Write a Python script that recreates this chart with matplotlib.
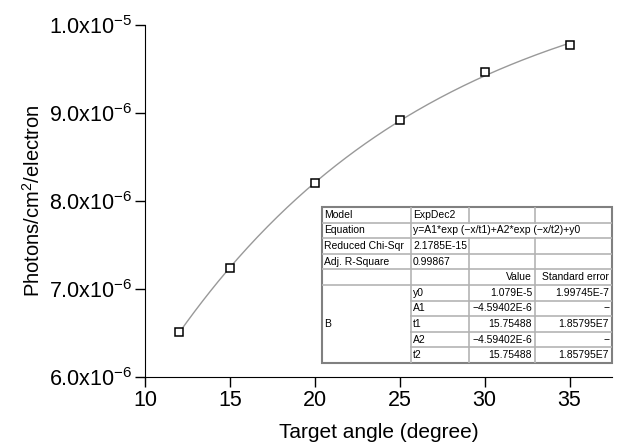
import matplotlib
matplotlib.use("Agg")
import matplotlib.pyplot as plt
import numpy as np
from matplotlib.patches import Rectangle

plt.rcParams["font.family"] = ["Liberation Sans", "DejaVu Sans"]
plt.rcParams["mathtext.fontset"] = "custom"
plt.rcParams["mathtext.rm"] = "Liberation Sans"
plt.rcParams["mathtext.it"] = "Liberation Sans"

# measured points
angle = [12, 15, 20, 25, 30, 35]
photons = [6.51e-6, 7.24e-6, 8.20e-6, 8.92e-6, 9.47e-6, 9.77e-6]

# ExpDec2 fit parameters (from the table)
y0 = 1.079e-5
A1 = -4.59402e-6
t1 = 15.75488
A2 = -4.59402e-6
t2 = 15.75488

xticks = [10, 15, 20, 25, 30, 35]
yticks = [6.0e-6, 7.0e-6, 8.0e-6, 9.0e-6, 1.0e-5]
ytick_labels = [r"6.0x10$^{-6}$", r"7.0x10$^{-6}$", r"8.0x10$^{-6}$",
                r"9.0x10$^{-6}$", r"1.0x10$^{-5}$"]

table_rows = [
    ["Model", "ExpDec2", "", ""],
    ["Equation", "y=A1*exp (\u2212x/t1)+A2*exp (\u2212x/t2)+y0", None, None],
    ["Reduced Chi-Sqr", "2.1785E-15", "", ""],
    ["Adj. R-Square", "0.99867", "", ""],
    ["", "", "Value", "Standard error"],
    ["B", "y0", "1.079E-5", "1.99745E-7"],
    ["", "A1", "\u22124.59402E-6", "\u2212"],
    ["", "t1", "15.75488", "1.85795E7"],
    ["", "A2", "\u22124.59402E-6", "\u2212"],
    ["", "t2", "15.75488", "1.85795E7"],
]

fig = plt.figure(figsize=(6.36, 4.46), dpi=100)
ax = fig.add_axes([145 / 636, 69 / 446, 467 / 636, 352 / 446])

xs = np.linspace(min(angle), max(angle), 200)
fit = A1 * np.exp(-xs / t1) + A2 * np.exp(-xs / t2) + y0
ax.plot(xs, fit, color="#999999", lw=1.0, zorder=2)
ax.plot(angle, photons, ls="none", marker="s", ms=6, mfc="white",
        mec="black", mew=1.1, zorder=3)

ax.set_xlim(10, 37.5)
ax.set_ylim(6.0e-6, 1.0e-5)
ax.set_xticks(xticks)
ax.set_yticks(yticks)
ax.set_yticklabels(ytick_labels)
ax.tick_params(direction="out", length=7, width=1, labelsize=15.5, pad=2)
for s in ["top", "right"]:
    ax.spines[s].set_visible(False)
ax.set_xlabel("Target angle (degree)", fontsize=15, labelpad=9)
ax.set_ylabel("Photons/cm$^2$/electron", fontsize=14.5, labelpad=4)

# fit-result table drawn in an inset
tab = fig.add_axes([322 / 636, 83 / 446, 290 / 636, 156 / 446])
tab.set_xlim(0, 290)
tab.set_ylim(156, 0)
tab.axis("off")
col_x = [0, 89, 147, 213, 290]
nrows = len(table_rows)
rh = 156 / nrows
inner = "#b4b4b4"
fs = 7.5
for r, row in enumerate(table_rows):
    ytop = r * rh
    ymid = ytop + rh / 2
    for c in range(4):
        txt = row[c]
        if txt is None:
            continue
        if r == 1 and c == 1:
            tab.text(col_x[1] + 2, ymid, txt, fontsize=fs, va="center", ha="left")
            continue
        if r >= 4 and c >= 2:
            tab.text(col_x[c + 1] - 3, ymid, txt, fontsize=fs, va="center", ha="right")
        elif r >= 5 and c == 0:
            continue
        else:
            tab.text(col_x[c] + 2, ymid, txt, fontsize=fs, va="center", ha="left")
tab.text(col_x[0] + 2, 7.5 * rh, "B", fontsize=fs, va="center", ha="left")

# horizontal grid lines
for r in range(1, nrows):
    x0 = col_x[1] if r >= 6 else col_x[0]
    tab.plot([x0, col_x[4]], [r * rh, r * rh], color=inner, lw=1.2)
# vertical grid lines
for c in (1, 2, 3):
    for r in range(nrows):
        if r == 1 and c >= 2:
            continue
        tab.plot([col_x[c], col_x[c]], [r * rh, (r + 1) * rh], color=inner, lw=1.2)
tab.add_patch(Rectangle((0, 0), 290, 156, fill=False, ec="#808080", lw=1.5,
                        clip_on=False))

fig.savefig("out.png", dpi=100)
